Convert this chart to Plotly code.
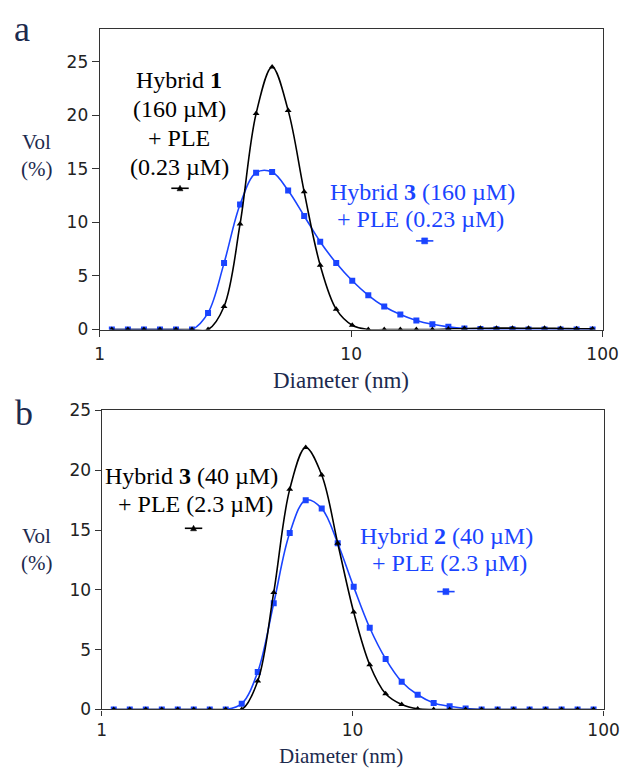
import plotly.graph_objects as go

# Diameter bins (nm)
diameter = [1.117, 1.294, 1.499, 1.736, 2.010, 2.328, 2.696, 3.122, 3.615, 4.187,
            4.849, 5.615, 6.503, 7.531, 8.721, 10.10, 11.70, 13.54, 15.69, 18.17,
            21.04, 24.36, 28.21, 32.67, 37.84, 43.82, 50.75, 58.77, 68.06, 78.82, 91.28]

# Panel a
a_hybrid1 = [0, 0, 0, 0, 0, 0, 0, 2.15, 9.85, 20.15,
             24.5, 20.45, 12.85, 6.0, 1.9, 0.4, 0, 0, 0, 0,
             0, 0.05, 0.1, 0.12, 0.13, 0.13, 0.12, 0.12, 0.1, 0.08, 0.06]
a_hybrid3 = [0, 0, 0, 0, 0, 0, 1.55, 6.2, 11.67, 14.64,
             14.7, 12.97, 10.6, 8.2, 6.2, 4.55, 3.2, 2.15, 1.4, 0.85,
             0.49, 0.25, 0.1, 0.05, 0.03, 0.02, 0.01, 0, 0, 0, 0]

# Panel b
b_hybrid3 = [0, 0, 0, 0, 0, 0, 0, 0, 0, 2.38,
             9.78, 18.4, 21.9, 19.6, 13.9, 8.14, 3.74, 1.31, 0.41, 0.05,
             0, 0, 0, 0, 0, 0, 0, 0, 0, 0, 0]
b_hybrid2 = [0, 0, 0, 0, 0, 0, 0, 0, 0.49, 3.14,
             8.88, 14.75, 17.5, 16.8, 13.9, 10.25, 6.83, 4.23, 2.32, 1.23,
             0.55, 0.27, 0.08, 0, 0, 0, 0, 0, 0, 0, 0]

x_ticks = [1, 10, 100]
x_ticktext = ["1", "10", "100"]
y_ticks = [0, 5, 10, 15, 20, 25]

BLACK = "#000000"
BLUE = "#1a44ff"
NAVY = "#1c2a4e"
W, H = 635, 776

def px(x):
    return x / W

def py(y):
    return 1 - y / H

fig = go.Figure()

def add_series(x, y, color, symbol, msize, xa, ya):
    fig.add_trace(go.Scatter(
        x=x, y=y, mode="lines+markers", xaxis=xa, yaxis=ya,
        line=dict(color=color, width=1.6, shape="spline", smoothing=1.0),
        marker=dict(symbol=symbol, size=msize, color=color),
        showlegend=False, hoverinfo="skip"))

add_series(diameter, a_hybrid3, BLUE, "square", 6, "x", "y")
add_series(diameter, a_hybrid1, BLACK, "triangle-up", 6, "x", "y")
add_series(diameter, b_hybrid2, BLUE, "square", 6, "x2", "y2")
add_series(diameter, b_hybrid3, BLACK, "triangle-up", 6, "x2", "y2")

tickfont = dict(family="DejaVu Sans", size=17, color="#222222")
axis_common = dict(showgrid=False, zeroline=False, showline=True, linecolor="#333333",
                   linewidth=1.2, mirror=True, ticks="outside", tickcolor="#333333",
                   tickfont=tickfont)

fig.update_layout(
    width=W, height=H, margin=dict(l=0, r=0, t=0, b=0),
    plot_bgcolor="white", paper_bgcolor="white",
    xaxis=dict(type="log", range=[0, 2], domain=[px(98), px(618)], anchor="y",
               tickvals=x_ticks, ticktext=x_ticktext, ticklen=6, ticklabelstandoff=3,
               **axis_common),
    yaxis=dict(range=[0, 28], domain=[py(328), py(20)], anchor="x",
               tickvals=y_ticks, ticklen=7, **axis_common),
    xaxis2=dict(type="log", range=[0, 2], domain=[px(100), px(619)], anchor="y2",
                tickvals=x_ticks, ticktext=x_ticktext, ticklen=5, ticklabelstandoff=0,
                **axis_common),
    yaxis2=dict(range=[0, 25], domain=[py(718), py(411)], anchor="x2",
                tickvals=y_ticks, ticklen=6, **axis_common),
)

serif = "Liberation Serif"

def text(x, y, s, color, size=24, fam=serif, yanchor="middle", yshift=0):
    fig.add_annotation(x=px(x), y=py(y), xref="paper", yref="paper", text=s,
                       showarrow=False, xanchor="center", yanchor=yanchor, yshift=yshift,
                       borderpad=0, font=dict(family=fam, size=size, color=color))

# panel letters
text(18, 20, "a", NAVY, size=36)
text(20, 414, "b", NAVY, size=36)

# y-axis titles
text(33, 135, "Vol", NAVY, size=21)
text(33, 163, "(%)", NAVY, size=21)
text(33, 540, "Vol", NAVY, size=21)
text(33, 568, "(%)", NAVY, size=21)

# x-axis titles
text(347, 380, "Diameter (nm)", NAVY, size=23)
text(347, 776, "Diameter (nm)", NAVY, size=21, yanchor="bottom", yshift=-3)

# series labels, panel a
text(180, 72, "Hybrid <b>1</b>", BLACK)
text(180, 102, "(160 µM)", BLACK)
text(180, 131, "+ PLE", BLACK)
text(180, 161, "(0.23 µM)", BLACK)
text(432, 187, "Hybrid <b>3</b> (160 µM)", BLUE)
text(430, 215, "+ PLE (0.23 µM)", BLUE)

# series labels, panel b
text(193, 478, "Hybrid <b>3</b> (40 µM)", BLACK)
text(197, 507, "+ PLE (2.3 µM)", BLACK)
text(457, 540, "Hybrid <b>2</b> (40 µM)", BLUE)
text(460, 568, "+ PLE (2.3 µM)", BLUE)

# legend keys (line + marker)
def key(xc, yc, color, kind):
    fig.add_shape(type="line", xref="paper", yref="paper",
                  x0=px(xc - 9), x1=px(xc + 9), y0=py(yc), y1=py(yc),
                  line=dict(color=color, width=1.6))
    if kind == "tri":
        path = "M -3,-2.5 L 3,-2.5 L 0,3 Z"
    else:
        path = "M -3,-3 L 3,-3 L 3,3 L -3,3 Z"
    fig.add_shape(type="path", xref="paper", yref="paper",
                  xsizemode="pixel", ysizemode="pixel",
                  xanchor=px(xc), yanchor=py(yc), path=path,
                  fillcolor=color, line=dict(color=color, width=0.5))

key(181, 183, BLACK, "tri")
key(434, 237, BLUE, "sq")
key(195, 532, BLACK, "tri")
key(456, 597, BLUE, "sq")

fig.write_html("out.html", config={"displayModeBar": False},
               post_script="document.body.style.margin='0';document.body.style.overflow='hidden';")
